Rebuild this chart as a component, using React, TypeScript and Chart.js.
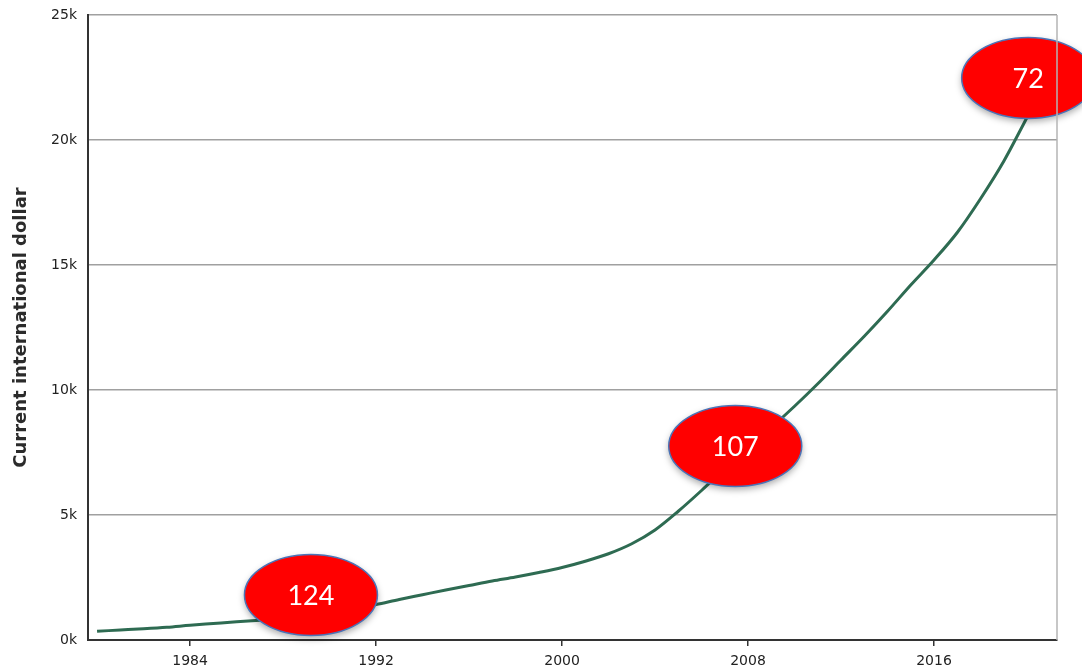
import React, { useEffect, useRef } from "react";
import { Chart, registerables } from "chart.js";

Chart.register(...registerables);

const years = [
  1980, 1981, 1982, 1983, 1984, 1985, 1986, 1987, 1988, 1989,
  1990, 1991, 1992, 1993, 1994, 1995, 1996, 1997, 1998, 1999,
  2000, 2001, 2002, 2003, 2004, 2005, 2006, 2007, 2008, 2009,
  2010, 2011, 2012, 2013, 2014, 2015, 2016, 2017, 2018, 2019, 2020,
];
const values = [
  350, 400, 450, 510, 590, 660, 730, 790, 860, 960,
  1080, 1240, 1420, 1620, 1810, 2000, 2180, 2360, 2520, 2700,
  2900, 3150, 3450, 3850, 4400, 5150, 5980, 6850, 7700, 8500,
  9350, 10250, 11200, 12150, 13150, 14200, 15200, 16300, 17650, 19150, 20900,
];
const xTickValues = [1984, 1992, 2000, 2008, 2016];
const yTickValues = [0, 5000, 10000, 15000, 20000, 25000];
const noteYears = [1989.2, 2007.45, 2020.05];
const noteValues = [1800, 7760, 22480];
const noteLabels = ["124", "107", "72"];
const yTitle = "Current international dollar";

const rightBorder = {
  id: "rightBorder",
  afterDraw(chart: any) {
    const { ctx, chartArea } = chart;
    ctx.save();
    ctx.strokeStyle = "#b4b4b4";
    ctx.lineWidth = 1.5;
    ctx.beginPath();
    ctx.moveTo(chartArea.right, chartArea.top);
    ctx.lineTo(chartArea.right, chartArea.bottom);
    ctx.stroke();
    ctx.restore();
  },
};

const ellipseNotes = {
  id: "ellipseNotes",
  afterDatasetsDraw(chart: any) {
    const { ctx, scales } = chart;
    ctx.save();
    noteYears.forEach((yr, i) => {
      const cx = scales.x.getPixelForValue(yr);
      const cy = scales.y.getPixelForValue(noteValues[i]);
      ctx.save();
      ctx.shadowColor = "rgba(0,0,0,0.35)";
      ctx.shadowBlur = 7;
      ctx.shadowOffsetY = 3;
      ctx.beginPath();
      ctx.ellipse(cx, cy, 66.5, 40.5, 0, 0, Math.PI * 2);
      ctx.fillStyle = "#ff0000";
      ctx.fill();
      ctx.restore();
      ctx.beginPath();
      ctx.ellipse(cx, cy, 66.5, 40.5, 0, 0, Math.PI * 2);
      ctx.strokeStyle = "#4a74b8";
      ctx.lineWidth = 1.5;
      ctx.stroke();
      ctx.fillStyle = "#ffffff";
      ctx.font = "27px Lato";
      ctx.textAlign = "center";
      ctx.textBaseline = "middle";
      ctx.fillText(noteLabels[i], cx, cy + 1);
    });
    ctx.restore();
  },
};

export default function App() {
  const ref = useRef<HTMLCanvasElement>(null);
  useEffect(() => {
    document.body.style.margin = "0";
    const canvas = ref.current;
    if (!canvas) return;
    const chart = new Chart(canvas, {
      type: "line",
      data: {
        datasets: [
          {
            data: years.map((x, i) => ({ x, y: values[i] })),
            borderColor: "#2e6b52",
            borderWidth: 3,
            pointRadius: 0,
            fill: false,
            cubicInterpolationMode: "monotone",
          },
        ],
      },
      options: {
        animation: false,
        responsive: false,
        layout: { padding: { top: 15, right: 25, left: 0, bottom: 0 } },
        plugins: { legend: { display: false }, tooltip: { enabled: false } },
        scales: {
          x: {
            type: "linear",
            min: 1979.61,
            max: 2021.29,
            afterBuildTicks: (scale: any) => {
              scale.ticks = xTickValues.map((v) => ({ value: v }));
            },
            afterFit: (scale: any) => {
              scale.height = 30;
              scale.paddingLeft = 0;
              scale.paddingRight = 0;
            },
            grid: {
              drawOnChartArea: false,
              drawTicks: true,
              tickLength: 6,
              color: "#333333",
              lineWidth: 1.5,
            },
            border: { color: "#333333", width: 2 },
            ticks: {
              padding: 7,
              maxRotation: 0,
              color: "#222222",
              font: { family: "DejaVu Sans", size: 14 },
              callback: (v: any) => String(v),
            },
          },
          y: {
            min: 0,
            max: 25000,
            afterBuildTicks: (scale: any) => {
              scale.ticks = yTickValues.map((v) => ({ value: v }));
            },
            afterFit: (scale: any) => {
              scale.width = 88;
              scale.paddingTop = 0;
              scale.paddingBottom = 0;
            },
            grid: {
              drawTicks: false,
              tickLength: 0,
              color: "#a0a0a0",
              lineWidth: 1.5,
            },
            border: { color: "#333333", width: 2 },
            ticks: {
              padding: 11,
              color: "#222222",
              font: { family: "DejaVu Sans", size: 14 },
              callback: (v: any) => Number(v) / 1000 + "k",
            },
            title: {
              display: true,
              text: yTitle,
              color: "#2b2b2b",
              font: { family: "DejaVu Sans", size: 18, weight: "bold" },
              padding: { top: 11, bottom: 0 },
            },
          },
        },
      },
      plugins: [rightBorder, ellipseNotes],
    } as any);
    return () => chart.destroy();
  }, []);
  return (
    <canvas
      ref={ref}
      width={1082}
      height={670}
      style={{ display: "block", width: 1082, height: 670 }}
    />
  );
}
